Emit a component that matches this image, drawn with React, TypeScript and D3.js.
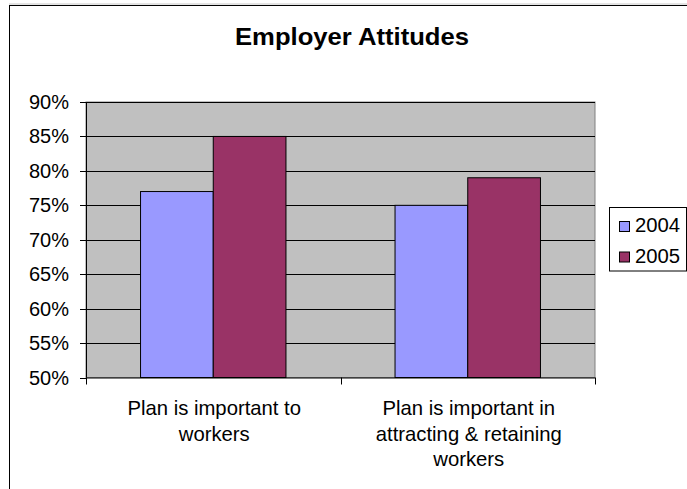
import React from "react";
import * as d3 from "d3";

const categories: string[][] = [
  ["Plan is important to", "workers"],
  ["Plan is important in", "attracting & retaining", "workers"],
];
const categoryKeys = ["c1", "c2"];
const seriesNames = ["2004", "2005"];
const values2004 = [0.77, 0.75];
const values2005 = [0.85, 0.79];
const yTicks = [0.5, 0.55, 0.6, 0.65, 0.7, 0.75, 0.8, 0.85, 0.9];
const colors = ["#9999FF", "#993366"];

export default function App() {
  const W = 687, H = 489;
  const plot = { left: 86, right: 595, top: 102, bottom: 377.5 };
  const y = d3.scaleLinear().domain([0.5, 0.9]).range([plot.bottom, plot.top]);
  const x0 = d3.scaleBand<string>().domain(categoryKeys).range([plot.left, plot.right]).padding(0);
  const bw = x0.bandwidth();
  const barW = bw / 3.5;
  const gap = barW * 0.75;
  const x1 = d3.scaleBand<string>().domain(seriesNames).range([gap, bw - gap]).padding(0);
  const series = [values2004, values2005];
  const fmt = d3.format(".0%");
  const font = "'Liberation Sans', Arial, sans-serif";

  return (
    <svg width={W} height={H} style={{ position: "absolute", left: 0, top: 0 }} fontFamily={font}>
      <rect x={0} y={0} width={W} height={H} fill="#fff" />
      <line x1={9} x2={W} y1={4} y2={4} stroke="#c8c8c8" />
      <rect x={9.5} y={5.5} width={W + 20} height={H + 20} fill="#fff" stroke="#000" />
      <text x={352} y={45} textAnchor="middle" fontSize={24.5} fontWeight="bold" textLength={234} lengthAdjust="spacingAndGlyphs">Employer Attitudes</text>

      <rect x={plot.left} y={plot.top} width={plot.right - plot.left} height={plot.bottom - plot.top} fill="#C0C0C0" stroke="#808080" />
      {yTicks.map((t) => (
        <g key={t}>
          {t > 0.5 && <line x1={plot.left} x2={plot.right} y1={Math.round(y(t)) + 0.5} y2={Math.round(y(t)) + 0.5} stroke="#000" />}
          <line x1={80} x2={plot.left} y1={Math.round(y(t)) + 0.5} y2={Math.round(y(t)) + 0.5} stroke="#000" />
          <text x={69} y={y(t) + 7} textAnchor="end" fontSize={20}>{fmt(t)}</text>
        </g>
      ))}

      {categoryKeys.map((c, ci) => (
        <g key={c} transform={`translate(${x0(c)},0)`}>
          {series.map((vals, si) => (
            <rect key={si} x={x1(seriesNames[si])!} y={y(vals[ci])} width={x1.bandwidth()} height={plot.bottom - y(vals[ci])} fill={colors[si]} stroke="#000" strokeWidth={1} />
          ))}
        </g>
      ))}

      <line x1={plot.left + 0.5} x2={plot.left + 0.5} y1={plot.top} y2={plot.bottom} stroke="#000" />
      <line x1={plot.left} x2={plot.right} y1={plot.bottom + 0.5} y2={plot.bottom + 0.5} stroke="#000" />
      {[...categoryKeys.map((c) => x0(c)!), plot.right].map((xv, i) => (
        <line key={i} x1={Math.round(xv) + 0.5} x2={Math.round(xv) + 0.5} y1={plot.bottom} y2={plot.bottom + 7} stroke="#000" />
      ))}

      {categoryKeys.map((c, ci) => (
        <text key={c} textAnchor="middle" fontSize={20.3} x={x0(c)! + bw / 2}>
          {categories[ci].map((line, li) => (
            <tspan key={li} x={x0(c)! + bw / 2 + 1} y={415 + li * 25.7}>{line}</tspan>
          ))}
        </text>
      ))}

      <rect x={609.5} y={207.5} width={77} height={63.5} fill="#fff" stroke="#000" />
      {seriesNames.map((s, i) => (
        <g key={s}>
          <rect x={619.5} y={221.5 + i * 30.5} width={10} height={10} fill={colors[i]} stroke="#000" />
          <text x={635} y={232 + i * 30.5} fontSize={20.3}>{s}</text>
        </g>
      ))}
    </svg>
  );
}
